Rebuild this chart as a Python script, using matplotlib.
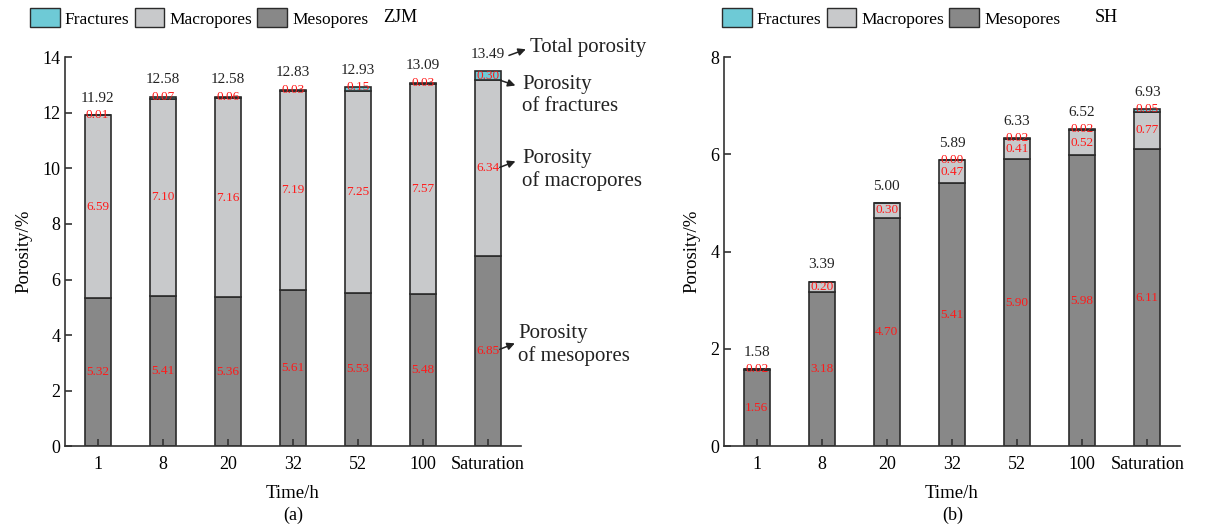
import matplotlib
matplotlib.use('Agg')
import matplotlib.pyplot as plt
from matplotlib.patches import Patch
import numpy as np

plt.rcParams['font.family'] = ['Liberation Serif', 'DejaVu Serif']

# 数据
times = ['1', '8', '20', '32', '52', '100', 'Saturation']

zjm_meso = [5.32, 5.41, 5.36, 5.61, 5.53, 5.48, 6.85]
zjm_macro = [6.59, 7.10, 7.16, 7.19, 7.25, 7.57, 6.34]
zjm_frac = [0.01, 0.07, 0.06, 0.03, 0.15, 0.03, 0.30]
zjm_total = [11.92, 12.58, 12.58, 12.83, 12.93, 13.09, 13.49]

sh_meso = [1.56, 3.18, 4.70, 5.41, 5.90, 5.98, 6.11]
sh_macro = [0.02, 0.20, 0.30, 0.47, 0.41, 0.52, 0.77]
sh_frac = [0.00, 0.00, 0.00, 0.00, 0.02, 0.02, 0.05]
sh_total = [1.58, 3.39, 5.00, 5.89, 6.33, 6.52, 6.93]
sh_frac_labelled = [False, False, False, True, True, True, True]

C_FRAC = '#6ecad6'
C_MACRO = '#c8c9cb'
C_MESO = '#888888'
EDGE = '#2b2b2b'
RED = '#ff1a1a'


def draw_panel(ax, meso, macro, frac, total, ymax, ystep, frac_labelled, offset):
    x = np.arange(len(times))
    meso = np.array(meso)
    macro = np.array(macro)
    frac = np.array(frac)
    kw = dict(width=0.4, edgecolor=EDGE, linewidth=1.2)
    ax.bar(x, meso, color=C_MESO, **kw)
    ax.bar(x, macro, bottom=meso, color=C_MACRO, **kw)
    ax.bar(x, frac, bottom=meso + macro, color=C_FRAC, **kw)

    for i in range(len(x)):
        ax.text(x[i], meso[i] / 2, f'{meso[i]:.2f}', ha='center', va='center',
                color=RED, fontsize=9.5)
        if macro[i] >= 0.1:
            ax.text(x[i], meso[i] + macro[i] / 2, f'{macro[i]:.2f}', ha='center',
                    va='center', color=RED, fontsize=9.5)
        elif macro[i] > 0:
            ax.text(x[i], meso[i] + macro[i], f'{macro[i]:.2f}', ha='center',
                    va='center', color=RED, fontsize=9.5)
        if frac_labelled[i]:
            top = meso[i] + macro[i] + frac[i]
            yf = top - frac[i] / 2 if frac[i] >= 0.2 else top
            ax.text(x[i], yf, f'{frac[i]:.2f}', ha='center', va='center',
                    color=RED, fontsize=9.5)
        ax.text(x[i], meso[i] + macro[i] + frac[i] + offset, f'{total[i]:.2f}',
                ha='center', va='center', color='#222222', fontsize=11)

    ax.set_xlim(-0.5, 6.5)
    ax.set_ylim(0, ymax)
    ax.set_yticks(np.arange(0, ymax + 0.1, ystep))
    ax.set_xticks(x)
    ax.set_xticklabels(times)
    ax.tick_params(direction='in', length=5, width=1.2, labelsize=13, color='#333333')
    ax.tick_params(axis='x', pad=7)
    ax.spines['top'].set_visible(False)
    ax.spines['right'].set_visible(False)
    for s in ['left', 'bottom']:
        ax.spines[s].set_linewidth(1.2)
        ax.spines[s].set_color('#333333')
    ax.set_xlabel('Time/h', fontsize=13.5, labelpad=9)
    ax.set_ylabel('Porosity/%', fontsize=13.5, labelpad=7)


fig = plt.figure(figsize=(12.15, 5.25), dpi=100)
ax1 = fig.add_axes([0.0535, 0.150, 0.375, 0.741])
ax2 = fig.add_axes([0.596, 0.150, 0.375, 0.741])

draw_panel(ax1, zjm_meso, zjm_macro, zjm_frac, zjm_total, 14, 2,
           [True] * 7, 0.61)
draw_panel(ax2, sh_meso, sh_macro, sh_frac, sh_total, 8, 2,
           sh_frac_labelled, 0.35)

# 左图注释
arrow = dict(arrowstyle='-|>', color='#222222', lw=1.1, mutation_scale=11)
notes = [
    ('Total porosity', (6.28, 14.03), (6.62, 14.32), (6.64, 14.35)),
    ('Porosity\nof fractures', (6.15, 13.20), (6.46, 12.95), (6.52, 12.63)),
    ('Porosity\nof macropores', (6.14, 10.00), (6.46, 10.29), (6.52, 9.93)),
    ('Porosity\nof mesopores', (6.14, 3.45), (6.45, 3.74), (6.46, 3.63)),
]
for txt, tail, head, pos in notes:
    ax1.annotate('', xy=head, xytext=tail, arrowprops=arrow, annotation_clip=False)
    ax1.text(pos[0], pos[1], txt, ha='left', va='center', fontsize=15,
             color='#222222', linespacing=1.2, clip_on=False)

# 图例
handles = [Patch(facecolor=C_FRAC, edgecolor=EDGE, label='Fractures'),
           Patch(facecolor=C_MACRO, edgecolor=EDGE, label='Macropores'),
           Patch(facecolor=C_MESO, edgecolor=EDGE, label='Mesopores')]
leg_kw = dict(ncol=3, frameon=False, fontsize=12.5, handlelength=1.7,
              handleheight=1.25, handletextpad=0.3, columnspacing=0.3,
              borderaxespad=0, borderpad=0, loc='center left')
fig.legend(handles=handles, bbox_to_anchor=(30 / 1215, 1 - 18 / 525), **leg_kw)
fig.legend(handles=handles, bbox_to_anchor=(722 / 1215, 1 - 18 / 525), **leg_kw)
fig.text(383 / 1215, 1 - 18 / 525, 'ZJM', ha='left', va='center', fontsize=13)
fig.text(1095 / 1215, 1 - 18 / 525, 'SH', ha='left', va='center', fontsize=13)

fig.text(293 / 1215, 1 - 515 / 525, '(a)', ha='center', va='center', fontsize=13)
fig.text(953 / 1215, 1 - 515 / 525, '(b)', ha='center', va='center', fontsize=13)

fig.savefig('out.png', dpi=100, facecolor='white')
